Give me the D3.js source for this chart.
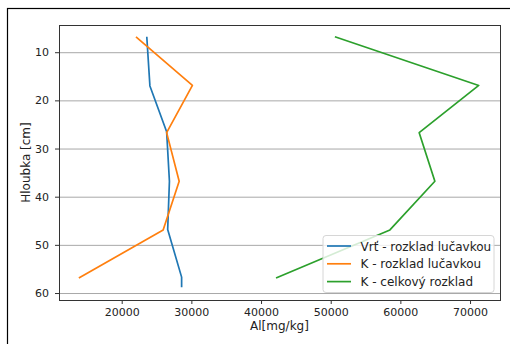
<!DOCTYPE html>
<html>
<head>
<meta charset="utf-8">
<script src="https://cdn.jsdelivr.net/npm/d3@7"></script>
<style>
  body { margin: 0; background: #fff; }
  svg { display: block; font-family: "DejaVu Sans", sans-serif; }
</style>
</head>
<body>
<div id="chart"></div>
<script>
// Depth profiles of Al (mg/kg)
const depthVrt = [6.8, 17, 26.5, 36.8, 46.8, 56.7, 58.8];
const alVrt = [23600, 24050, 26450, 26850, 26600, 28600, 28600];

const depthK = [6.8, 16.9, 26.7, 36.8, 46.9, 56.9];
const alKLucavka = [22050, 30150, 26450, 28250, 25950, 13850];
const alKCelkovy = [50600, 71250, 62700, 64950, 58500, 42150];

const seriesNames = ['Vrť - rozklad lučavkou', 'K - rozklad lučavkou', 'K - celkový rozklad'];
const seriesColors = ['#1f77b4', '#ff7f0e', '#2ca02c'];

const xTicks = [20000, 30000, 40000, 50000, 60000, 70000];
const yTicks = [10, 20, 30, 40, 50, 60];

const WIDTH = 510;
const HEIGHT = 344;
const margin = { top: 25, right: 10, bottom: 44, left: 59 };

const svg = d3.select('#chart')
  .append('svg')
  .attr('width', WIDTH)
  .attr('height', HEIGHT);

// figure frame (only left/top edges visible)
svg.append('rect')
  .attr('x', 7.5)
  .attr('y', 8.5)
  .attr('width', WIDTH)
  .attr('height', HEIGHT)
  .attr('fill', 'none')
  .attr('stroke', '#000')
  .attr('stroke-width', 1.2);

const x = d3.scaleLinear()
  .domain([11000, 74300])
  .range([margin.left, WIDTH - margin.right]);

const y = d3.scaleLinear()
  .domain([4.35, 61.45])
  .range([margin.top, HEIGHT - margin.bottom]);

// grid
svg.append('g')
  .selectAll('line')
  .data(yTicks)
  .join('line')
  .attr('x1', x.range()[0])
  .attr('x2', x.range()[1])
  .attr('y1', d => y(d) + 0.5)
  .attr('y2', d => y(d) + 0.5)
  .attr('stroke', '#a8a8a8')
  .attr('stroke-width', 1);

// axes
const xAxis = svg.append('g')
  .attr('transform', `translate(0, ${y.range()[1]})`)
  .call(d3.axisBottom(x).tickValues(xTicks).tickFormat(d3.format('d')).tickSizeOuter(0).tickSize(4).tickPadding(4));

const yAxis = svg.append('g')
  .attr('transform', `translate(${x.range()[0]}, 0)`)
  .call(d3.axisLeft(y).tickValues(yTicks).tickSizeOuter(0).tickSize(4).tickPadding(6));

[xAxis, yAxis].forEach(ax => {
  ax.select('.domain').remove();
  ax.selectAll('text').attr('font-size', 11).attr('fill', '#222').attr('font-family', '"DejaVu Sans", sans-serif');
  ax.selectAll('line').attr('stroke', '#333');
});

// spines
svg.append('rect')
  .attr('x', x.range()[0] + 0.5)
  .attr('y', y.range()[0] + 0.5)
  .attr('width', x.range()[1] - x.range()[0])
  .attr('height', y.range()[1] - y.range()[0])
  .attr('fill', 'none')
  .attr('stroke', '#333')
  .attr('stroke-width', 1);

// lines
const line = d3.line()
  .x(d => x(d[0]))
  .y(d => y(d[1]));

const series = [
  d3.zip(alVrt, depthVrt),
  d3.zip(alKLucavka, depthK),
  d3.zip(alKCelkovy, depthK),
];

svg.append('g')
  .selectAll('path')
  .data(series)
  .join('path')
  .attr('d', line)
  .attr('fill', 'none')
  .attr('stroke', (d, i) => seriesColors[i])
  .attr('stroke-width', 1.7)
  .attr('stroke-linejoin', 'round');

// axis labels
svg.append('text')
  .attr('x', (x.range()[0] + x.range()[1]) / 2)
  .attr('y', 330)
  .attr('text-anchor', 'middle')
  .attr('font-size', 12)
  .attr('fill', '#222')
  .text('Al[mg/kg]');

svg.append('text')
  .attr('transform', `translate(29.5, ${(y.range()[0] + y.range()[1]) / 2}) rotate(-90)`)
  .attr('text-anchor', 'middle')
  .attr('font-size', 12)
  .attr('fill', '#222')
  .text('Hloubka [cm]');

// legend
const legend = svg.append('g')
  .attr('transform', 'translate(323, 235.5)');

legend.append('rect')
  .attr('width', 171)
  .attr('height', 57)
  .attr('rx', 3)
  .attr('fill', 'rgba(255,255,255,0.8)')
  .attr('stroke', '#d6d6d6');

const entries = legend.selectAll('.legend-entry')
  .data(seriesNames)
  .join('g')
  .attr('class', 'legend-entry')
  .attr('transform', (d, i) => `translate(0, ${10.5 + i * 17.8})`);

entries.append('line')
  .attr('x1', 4)
  .attr('x2', 28)
  .attr('stroke', (d, i) => seriesColors[i])
  .attr('stroke-width', 1.7);

entries.append('text')
  .attr('x', 37.5)
  .attr('y', 4.5)
  .attr('font-size', 12)
  .attr('fill', '#222')
  .text(d => d);
</script>
</body>
</html>
